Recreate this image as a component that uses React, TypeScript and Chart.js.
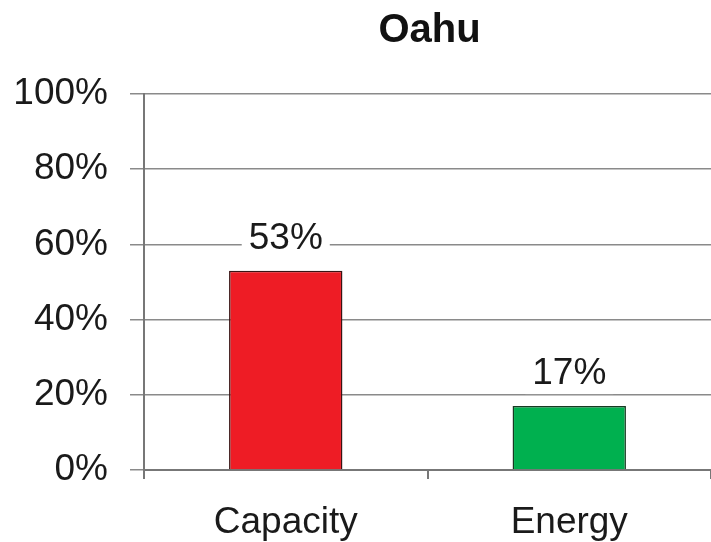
import React, { useEffect, useRef } from "react";
import { Chart, registerables } from "chart.js";

Chart.register(...registerables);

const categories = ["Capacity", "Energy"];
const values = [53, 17];
const barColors = ["#ee1c25", "#00b04f"];
const barBorders = ["#3a1414", "#163a22"];
const yMin = 0;
const yMax = 100;
const yStep = 20;
const titleText = "Oahu";

const FONT = "'Liberation Sans', Arial, Helvetica, sans-serif";

const valueLabels = {
  id: "valueLabels",
  afterDatasetsDraw(chart: any) {
    const ctx = chart.ctx;
    const meta = chart.getDatasetMeta(0);
    ctx.save();
    ctx.font = `37px ${FONT}`;
    ctx.textAlign = "center";
    ctx.textBaseline = "middle";
    meta.data.forEach((el: any, i: number) => {
      const text = `${values[i]}%`;
      const w = ctx.measureText(text).width;
      const cy = el.y - 32;
      ctx.fillStyle = "#ffffff";
      ctx.fillRect(el.x - w / 2 - 7, cy - 20, w + 14, 40);
      ctx.fillStyle = "#1a1a1a";
      ctx.fillText(text, el.x, cy);
    });
    ctx.restore();
  },
};

const areaTitle = {
  id: "areaTitle",
  afterDraw(chart: any) {
    const ctx = chart.ctx;
    const a = chart.chartArea;
    ctx.save();
    ctx.font = `bold 40px ${FONT}`;
    ctx.textAlign = "center";
    ctx.textBaseline = "middle";
    ctx.fillStyle = "#111111";
    ctx.fillText(titleText, (a.left + a.right) / 2 + 2, 31);
    ctx.restore();
  },
};

export default function App() {
  const ref = useRef<HTMLCanvasElement>(null);
  useEffect(() => {
    document.body.style.margin = "0";
    const chart = new Chart(ref.current!, {
      type: "bar",
      data: {
        labels: categories,
        datasets: [
          {
            data: values,
            backgroundColor: barColors,
            borderColor: barBorders,
            borderWidth: 1.5,
            barPercentage: 0.4,
            categoryPercentage: 1,
          },
        ],
      },
      options: {
        responsive: false,
        animation: false,
        layout: { padding: { top: 94, left: 0, right: 0, bottom: 0 } },
        plugins: {
          legend: { display: false },
          tooltip: { enabled: false },
          title: { display: false },
        },
        scales: {
          y: {
            min: yMin,
            max: yMax,
            ticks: {
              stepSize: yStep,
              callback: (v: any) => `${v}%`,
              color: "#1a1a1a",
              font: { family: FONT, size: 37 },
              padding: 22,
            },
            grid: { color: "#8a8a8a", lineWidth: 1.5, tickLength: 14 },
            border: { color: "#777777", width: 2 },
            afterFit: (s: any) => {
              s.width = 144;
            },
          },
          x: {
            offset: true,
            ticks: {
              color: "#1a1a1a",
              font: { family: FONT, size: 37 },
              padding: 22,
            },
            grid: {
              display: true,
              drawOnChartArea: false,
              offset: true,
              color: "#777777",
              lineWidth: 2,
              tickLength: 9,
            },
            border: { color: "#777777", width: 2 },
            afterFit: (s: any) => {
              s.height = 72;
            },
          },
        },
      },
      plugins: [valueLabels, areaTitle],
    });
    return () => chart.destroy();
  }, []);
  return (
    <div style={{ position: "fixed", left: 0, top: 0, background: "#fff" }}>
      <canvas ref={ref} width={711} height={542} style={{ display: "block" }} />
    </div>
  );
}
